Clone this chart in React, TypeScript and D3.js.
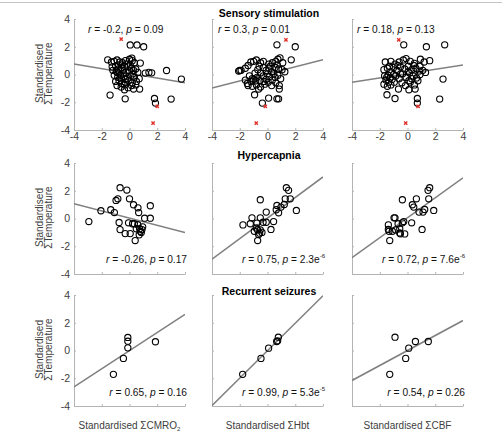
import React, { useEffect, useRef } from 'react';
import * as d3 from 'd3';

type Pt = [number, number];

const width = 502;
const height = 436;

const conditions = ['Sensory stimulation', 'Hypercapnia', 'Recurrent seizures'];
const measures = ['CMRO', 'Hbt', 'CBF'];
const ticks = [-4, -2, 0, 2, 4];

// sensory stimulation, kept points
const sensoryCmro2: Pt[] = [
	[-1.3, 0.9], [-1.1, 0.95], [-0.9, 1.05], [-0.7, 0.9], [-0.5, 0.85], [-0.3, 1.0], [0.0, 1.1], [0.2, 1.0], [0.35, 0.85],
	[-1.25, 0.55], [-1.0, 0.6], [-0.8, 0.7], [-0.6, 0.5], [-0.35, 0.6], [-0.1, 0.55], [0.15, 0.45], [0.45, 0.4],
	[-1.2, 0.3], [-0.95, 0.25], [-0.75, 0.1], [-0.5, 0.3], [-0.25, 0.15], [0.0, 0.25], [0.25, 0.05], [0.6, 0.15],
	[-1.1, -0.05], [-0.85, -0.2], [-0.65, -0.05], [-0.4, -0.15], [-0.15, -0.3], [0.1, -0.1], [0.35, -0.2], [0.7, -0.3],
	[-1.0, -0.5], [-0.75, -0.45], [-0.55, -0.65], [-0.3, -0.55], [-0.05, -0.45], [0.2, -0.6], [0.5, -0.5],
	[-0.9, -0.8], [-0.6, -0.9], [-0.35, -0.75], [-0.1, -0.95], [0.15, -0.8], [0.45, -0.75],
	[-0.8, 0.4], [-0.45, 0.05], [-0.2, 0.75], [-0.6, -0.3], [0.05, 0.7], [-0.9, 0.15], [-0.3, -0.35], [0.3, 0.3], [-0.55, 0.7],
	[0.05, 2.13], [0.54, 2.13], [1.02, 2.0], [-1.57, 1.06], [0.78, 0.82], [0.17, 1.18], [1.14, 0.1], [1.4, 0.15], [1.6, 0.12],
	[2.67, 0.29], [3.74, -0.33], [-1.4, -1.48], [-0.31, -1.75], [-0.36, -1.1], [0.29, -1.05], [0.73, -1.05], [1.8, -1.73],
	[1.87, -2.06], [3.0, -1.77],
];
const sensoryHbt: Pt[] = [
	[-1.9, 0.3], [-1.6, 0.45], [-1.4, 0.65], [-1.2, 0.9], [-1.0, 0.95], [-0.8, 1.05], [-0.5, 0.85], [-0.3, 0.95], [0.1, 0.75],
	[0.35, 0.85], [0.6, 0.95], [0.9, 1.2], [1.1, 0.85], [0.75, 1.1],
	[-1.6, -0.4], [-1.3, -0.1], [-1.1, -0.3], [-0.9, 0.1], [-0.7, 0.35], [-0.5, 0.1], [-0.3, 0.5], [-0.1, 0.3], [0.1, 0.45],
	[0.3, 0.2], [0.55, 0.5], [0.8, 0.4], [1.05, 0.35], [1.25, 0.2],
	[-1.45, -0.65], [-1.2, -0.5], [-1.0, -0.35], [-0.75, -0.2], [-0.55, -0.45], [-0.3, -0.1], [-0.1, -0.35], [0.15, -0.15],
	[0.35, -0.4], [0.55, -0.2], [0.75, -0.05], [0.95, -0.3],
	[-1.1, -0.85], [-0.8, -0.75], [-0.5, -0.9], [-0.2, -0.7], [0.05, -0.55], [0.3, -0.8], [0.6, -0.6], [0.85, -0.8],
	[-0.6, 0.6], [0.0, 0.05], [0.45, 0.05], [-0.25, -0.5], [0.2, 0.6], [0.7, 0.7], [-0.85, -0.45],
	[0.68, 2.14], [2.0, 2.0], [1.71, 1.06], [-2.0, 0.29], [-2.08, 0.25], [-0.93, -1.46], [0.08, -1.7], [-0.37, -2.06],
	[0.68, -1.75], [0.8, -1.75], [0.85, -1.05], [-0.64, -1.05], [-1.4, -0.8],
];
const sensoryCbf: Pt[] = [
	[-1.6, 0.9], [-1.2, 0.95], [-0.9, 0.75], [-0.6, 0.9], [-0.3, 1.05], [-0.1, 1.15], [0.2, 0.95], [0.5, 0.8], [0.9, 0.6], [1.2, 0.9],
	[-1.7, 0.35], [-1.45, 0.45], [-1.2, 0.2], [-1.0, 0.5], [-0.75, 0.3], [-0.5, 0.55], [-0.2, 0.4], [0.05, 0.6], [0.3, 0.35],
	[0.6, 0.45], [0.85, 0.25], [1.1, 0.3], [1.3, 0.15],
	[-1.65, -0.1], [-1.5, -0.2], [-1.4, -0.05], [-1.25, -0.25], [-1.55, -0.4], [-1.35, -0.55], [-1.1, -0.35], [-0.85, -0.1],
	[-0.6, -0.3], [-0.35, 0.05], [-0.1, -0.2], [0.15, 0.1], [0.4, -0.1], [0.65, -0.25], [0.9, 0.0],
	[-1.7, -0.7], [-1.45, -0.85], [-1.2, -0.75], [-0.95, -0.55], [-0.4, -0.6], [-0.15, -0.8], [0.2, -0.55], [0.5, -0.75], [0.75, -0.45],
	[-0.5, 0.05], [0.05, 0.2], [0.3, -0.3], [-0.7, 0.65], [0.45, 0.65], [-1.3, 0.6], [0.1, -0.45], [-1.0, 0.0],
	[-0.27, 2.14], [1.36, 2.0], [2.68, 2.14], [0.93, 1.1], [1.6, 1.0], [2.56, -0.33], [2.32, -1.77], [-1.48, -1.46],
	[-0.9, -1.73], [0.71, -1.73], [0.71, -2.06], [-0.65, -1.05], [0.1, -1.1], [0.55, -1.05],
];

// sensory stimulation, outliers left out of the fit
const sensoryCmro2Excluded: Pt[] = [[-0.6, 2.55], [2.0, -2.3], [1.7, -3.5]];
const sensoryHbtExcluded: Pt[] = [[1.33, 2.5], [-0.16, -2.3], [-0.81, -3.5]];
const sensoryCbfExcluded: Pt[] = [[-0.63, 2.5], [0.76, -2.3], [-0.13, -3.5]];

const hypercapniaCmro2: Pt[] = [
	[-2.93, -0.22], [-2.06, 0.56], [-1.35, 0.63], [-1.09, 0.43], [-0.97, 1.3], [-0.84, 1.42], [-0.68, 2.22], [-0.19, 2.05],
	[0.0, 1.42], [0.29, 0.99], [0.61, 0.77], [0.66, 0.43], [1.5, 0.92], [1.09, 0.02], [1.5, 0.02], [-0.75, -0.29],
	[-0.68, -0.8], [-0.31, -1.09], [0.05, -1.09], [-0.07, -0.31], [0.22, -0.38], [0.35, -0.38], [0.6, -0.45], [0.49, -0.74],
	[0.73, -0.74], [0.78, -0.92], [0.85, -1.0], [0.9, -0.8], [0.7, -1.18], [0.41, -1.59], [0.95, -0.6],
];
const hypercapniaHbt: Pt[] = [
	[1.36, 2.22], [1.52, 2.03], [1.28, 1.42], [1.64, 1.42], [1.21, 1.01], [0.97, 0.82], [0.68, 0.94], [0.63, 0.63],
	[0.8, 0.41], [2.08, 0.58], [-0.52, 1.35], [-0.09, 0.46], [-1.12, 0.05], [-0.52, 0.05], [-1.77, -0.46], [-1.24, -0.38],
	[-0.76, -0.33], [-0.32, -0.27], [-0.09, -0.27], [0.44, -0.22], [-0.81, -0.68], [-0.71, -0.82], [-0.52, -0.82],
	[-0.95, -0.92], [-0.57, -1.06], [-0.4, -1.0], [-0.64, -1.16], [0.25, -0.79], [-0.71, -1.59],
];
const hypercapniaCbf: Pt[] = [
	[1.6, 2.22], [1.48, 2.03], [1.53, 1.42], [0.64, 1.42], [-0.37, 1.35], [0.35, 0.99], [0.45, 0.82], [1.24, 0.65],
	[1.12, 0.46], [0.83, 0.46], [1.89, 0.58], [-0.97, 0.05], [-0.9, 0.05], [0.3, -0.31], [-0.27, -0.22], [-0.37, -0.31],
	[-0.68, -0.38], [-0.56, -0.74], [-1.38, -0.46], [-1.38, -0.79], [-1.33, -0.92], [-1.09, -0.92], [-0.85, -0.82],
	[-0.56, -1.04], [-0.51, -1.1], [-0.2, -1.11], [1.05, -0.79], [-1.28, -1.59],
];

const seizuresCmro2: Pt[] = [[-1.16, -1.72], [-0.44, -0.57], [-0.12, 0.19], [-0.12, 0.67], [-0.12, 0.94], [1.87, 0.63]];
const seizuresHbt: Pt[] = [[-1.79, -1.72], [-0.47, -0.57], [0.08, 0.17], [0.66, 0.65], [0.73, 0.7], [0.78, 0.96]];
const seizuresCbf: Pt[] = [[-1.28, -1.72], [-0.13, -0.57], [0.09, 0.17], [0.57, 0.65], [1.5, 0.65], [-0.9, 0.96]];

const points = [
	[sensoryCmro2, sensoryHbt, sensoryCbf],
	[hypercapniaCmro2, hypercapniaHbt, hypercapniaCbf],
	[seizuresCmro2, seizuresHbt, seizuresCbf],
];
const excluded = [
	[sensoryCmro2Excluded, sensoryHbtExcluded, sensoryCbfExcluded],
	[[], [], []],
	[[], [], []],
];

// regression fits and stats per condition row
const fitSlope = [[-0.17, 0.255, 0.154], [-0.259, 0.74, 0.72], [0.653, 0.99, 0.54]];
const fitIntercept = [[0.08, 0.04, 0.065], [0.025, 0.035, 0.05], [-0.01, -0.01, 0.0]];
const rValues = ['-0.2', '0.3', '0.18', '-0.26', '0.75', '0.72', '0.65', '0.99', '0.54'];
const pValues = ['0.09', '0.01', '0.13', '0.17', '2.3e-6', '7.6e-6', '0.16', '5.3e-5', '0.26'];

const colLeft = [74, 212, 352];
const rowTop = [19, 163, 295];
const plotW = 111;
const plotH = 111;
const statOffset = [14, 6, 5];
const font = 'Liberation Sans, Arial, sans-serif';
const axisGrey = '#b4b4b4';
const textGrey = '#404040';

const crossPath = (s: number) => `M${-s},${-s}L${s},${s}M${-s},${s}L${s},${-s}`;

const styleAxis = (g) => {
	g.select('.domain').attr('stroke', axisGrey);
	g.selectAll('.tick line').attr('stroke', axisGrey);
	g.selectAll('.tick text')
		.attr('fill', textGrey)
		.attr('font-family', font)
		.attr('font-size', 10.5);
};

const statLabel = (text, i, anchor) => {
	text.attr('font-family', font).attr('font-size', 10.2)
		.attr('fill', '#111')
		.attr('text-anchor', anchor);
	text.append('tspan').attr('font-style', 'italic').text('r');
	text.append('tspan').text(` = ${ rValues[i] }, `);
	text.append('tspan').attr('font-style', 'italic').text('p');
	const [mant, exp] = pValues[i].split('e');
	text.append('tspan').text(` = ${ mant }${ exp ? 'e' : '' }`);
	if (exp) {
		text.append('tspan').attr('font-size', 6)
			.attr('dy', -5)
			.text(exp);
	}
};

const drawFigure = (node: SVGSVGElement) => {
	const svg = d3.select(node);
	svg.selectAll('*').remove();

	svg.append('line')
		.attr('x1', 0).attr('x2', width)
		.attr('y1', 2.5).attr('y2', 2.5)
		.attr('stroke', '#c4c4c4');

	const defs = svg.append('defs');

	rowTop.forEach((top, ri) => {
		colLeft.forEach((left, ci) => {
			const x = d3.scaleLinear().domain([-4, 4]).range([left, left + plotW]);
			const y = d3.scaleLinear().domain([-4, 4]).range([top + plotH, top]);
			const g = svg.append('g');
			const idx = ri * 3 + ci;

			const yAxis = d3.axisLeft(y).tickValues(ticks)
				.tickSizeInner(-2).tickSizeOuter(0).tickPadding(4)
				.tickFormat((d) => (ci === 0 ? String(d) : ''));
			g.append('g').attr('transform', `translate(${ left },0)`)
				.call(yAxis)
				.call(styleAxis);

			const xAxis = d3.axisBottom(x).tickValues(ticks)
				.tickSizeInner(-2).tickSizeOuter(0).tickPadding(3)
				.tickFormat((d) => (ri === 0 ? String(d) : ''));
			g.append('g').attr('transform', `translate(0,${ top + plotH })`)
				.call(xAxis)
				.call(styleAxis);

			const clipId = `clip-${ ri }-${ ci }`;
			defs.append('clipPath').attr('id', clipId)
				.append('rect')
				.attr('x', left).attr('y', top)
				.attr('width', plotW).attr('height', plotH);

			const fit = (v: number) => (fitSlope[ri][ci] * v) + fitIntercept[ri][ci];
			g.append('line')
				.attr('clip-path', `url(#${ clipId })`)
				.attr('x1', x(-4)).attr('y1', y(fit(-4)))
				.attr('x2', x(4)).attr('y2', y(fit(4)))
				.attr('stroke', '#808080')
				.attr('stroke-width', 1.5);

			g.append('g')
				.selectAll('circle')
				.data(points[ri][ci])
				.join('circle')
				.attr('cx', (d) => x(d[0]))
				.attr('cy', (d) => y(d[1]))
				.attr('r', 3.1)
				.attr('fill', 'none')
				.attr('stroke', '#000')
				.attr('stroke-width', 1.1);

			g.append('g')
				.selectAll('path')
				.data(excluded[ri][ci])
				.join('path')
				.attr('transform', (d) => `translate(${ x(d[0]) },${ y(d[1]) })`)
				.attr('d', crossPath(1.6))
				.attr('stroke', '#e0302a')
				.attr('stroke-width', 1.4);

			if (ri === 0) {
				g.append('text')
					.attr('x', left + statOffset[ci])
					.attr('y', top + 14)
					.call(statLabel, idx, 'start');
			} else {
				g.append('text')
					.attr('x', left + plotW + 2)
					.attr('y', top + plotH - (ri === 1 ? 11.5 : 10.5))
					.call(statLabel, idx, 'end');
			}
		});

		const midY = rowTop[ri] + (plotH / 2) - 1;
		[['Standardised', 42.5], ['ΣTemperature', 52]].forEach(([label, bx]) => {
			svg.append('text')
				.attr('transform', `translate(${ bx },${ midY }) rotate(-90)`)
				.attr('text-anchor', 'middle')
				.attr('font-family', font)
				.attr('font-size', 10)
				.attr('fill', textGrey)
				.text(label as string);
		});

		svg.append('text')
			.attr('x', 269)
			.attr('y', [17.3, 158.5, 295][ri])
			.attr('text-anchor', 'middle')
			.attr('font-family', font)
			.attr('font-size', 10.5)
			.attr('font-weight', 'bold')
			.attr('fill', '#000')
			.text(conditions[ri]);
	});

	colLeft.forEach((left, ci) => {
		const t = svg.append('text')
			.attr('x', left + (plotW / 2))
			.attr('y', 428.5)
			.attr('text-anchor', 'middle')
			.attr('font-family', font)
			.attr('font-size', 10)
			.attr('fill', textGrey);
		t.append('tspan').text(`Standardised Σ${ measures[ci] }`);
		if (ci === 0) {
			t.append('tspan').attr('font-size', 6)
				.attr('dy', 2.5)
				.text('2');
		}
	});
};

const App = () => {
	const ref = useRef<SVGSVGElement>(null);

	useEffect(() => {
		if (ref.current) drawFigure(ref.current);
	}, []);

	return (
		<svg ref={ ref } width={ width } height={ height }
			style={ { position: 'absolute', left: 0, top: 0, background: '#fff' } }/>
	);
};

export default App;
